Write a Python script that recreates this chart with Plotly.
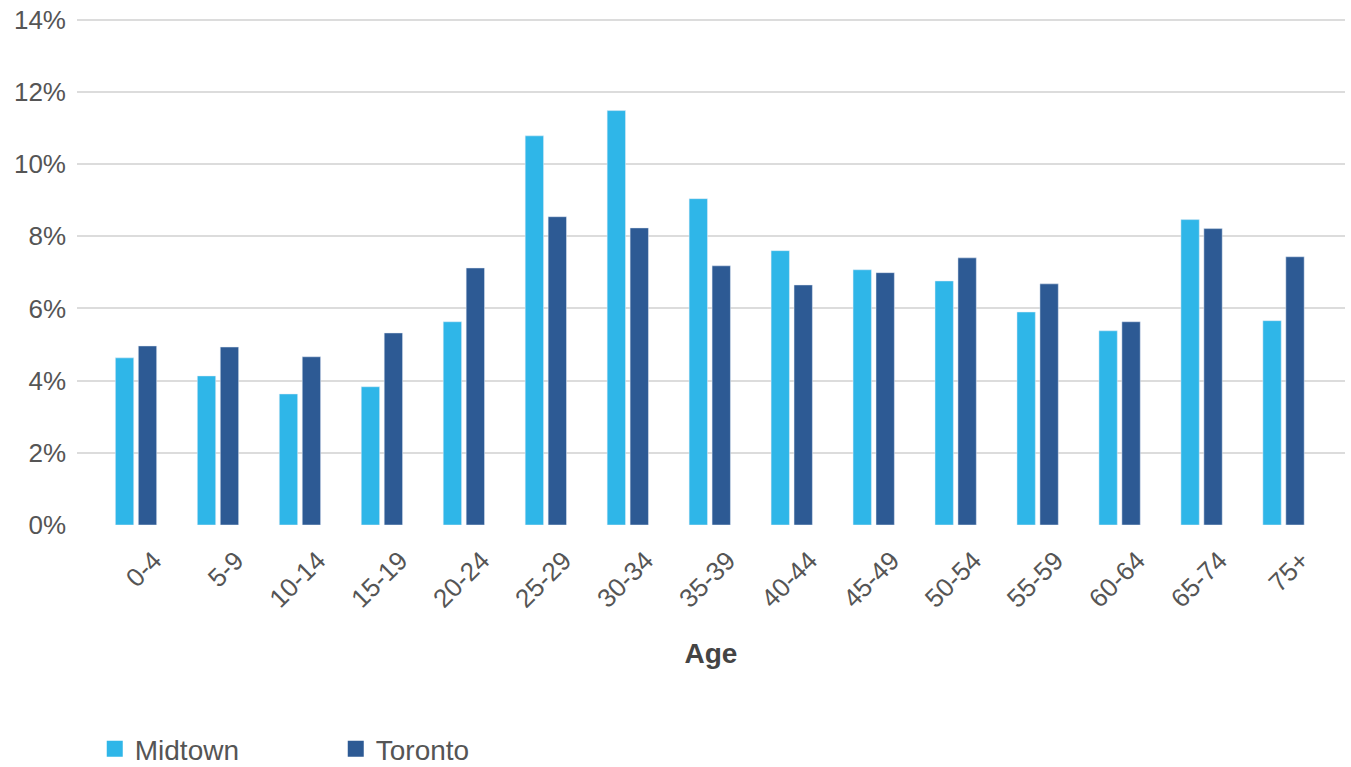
import plotly.graph_objects as go

# Share of population by age group (%)
age_groups = ["0-4", "5-9", "10-14", "15-19", "20-24", "25-29", "30-34", "35-39",
              "40-44", "45-49", "50-54", "55-59", "60-64", "65-74", "75+"]
midtown = [4.63, 4.13, 3.63, 3.83, 5.63, 10.78, 11.48, 9.04, 7.60, 7.07, 6.76, 5.90, 5.38, 8.46, 5.66]
toronto = [4.96, 4.93, 4.66, 5.32, 7.12, 8.54, 8.23, 7.18, 6.65, 6.99, 7.40, 6.68, 5.63, 8.21, 7.43]
y_ticks = [0, 2, 4, 6, 8, 10, 12, 14]
y_tick_labels = [f"{v}%" for v in y_ticks]

MIDTOWN_COLOR = "#2FB6E8"
TORONTO_COLOR = "#2D5A94"
TEXT_COLOR = "#555555"

X_RANGE = [-0.72, 14.75]
LABEL_SHIFT = 0.22  # category labels sit slightly right of the group centre

fig = go.Figure()
fig.add_trace(go.Bar(x=age_groups, y=midtown, name="Midtown",
                     marker_color=MIDTOWN_COLOR, showlegend=False))
fig.add_trace(go.Bar(x=age_groups, y=toronto, name="Toronto",
                     marker_color=TORONTO_COLOR, showlegend=False))

# Invisible trace that carries the label axis
fig.add_trace(go.Scatter(x=list(range(len(age_groups))), y=[None] * len(age_groups),
                         xaxis="x2", mode="markers", showlegend=False, hoverinfo="skip"))

# Square legend swatches
for name, color in [("Midtown", MIDTOWN_COLOR), ("Toronto", TORONTO_COLOR)]:
    fig.add_trace(go.Scatter(x=[None], y=[None], mode="markers", name=name,
                             marker=dict(symbol="square", size=20, color=color)))

fig.update_layout(
    width=1351, height=767,
    margin=dict(l=77, r=6, t=16, b=242, autoexpand=False),
    paper_bgcolor="white", plot_bgcolor="white",
    font=dict(family="Liberation Sans, Arial, sans-serif", size=24, color=TEXT_COLOR),
    barmode="group", bargap=0.44, bargroupgap=0.2,
    legend=dict(orientation="h", x=0.014, y=-0.44, xanchor="left", yanchor="middle",
                font=dict(size=28, color=TEXT_COLOR), entrywidth=196,
                itemclick=False),
    xaxis=dict(range=X_RANGE, showticklabels=False, showgrid=False, showline=False,
               ticks="", automargin=False,
               title=dict(text="<b>Age</b>", font=dict(size=28, color="#444444"), standoff=118)),
    xaxis2=dict(overlaying="x", anchor="y", side="bottom",
                range=[X_RANGE[0] - LABEL_SHIFT, X_RANGE[1] - LABEL_SHIFT],
                tickvals=list(range(len(age_groups))), ticktext=age_groups,
                tickangle=-45, showgrid=False, showline=False, zeroline=False,
                ticks="", automargin=False, ticklabelstandoff=14,
                tickfont=dict(size=26, color=TEXT_COLOR)),
    yaxis=dict(range=[0, 14.1], tickvals=y_ticks, ticktext=y_tick_labels, showgrid=True,
               gridcolor="#DCDCDC", gridwidth=2, zeroline=False, showline=False,
               automargin=False,
               tickfont=dict(size=26, color=TEXT_COLOR), ticklabelstandoff=10),
)

fig.write_html("out.html")
